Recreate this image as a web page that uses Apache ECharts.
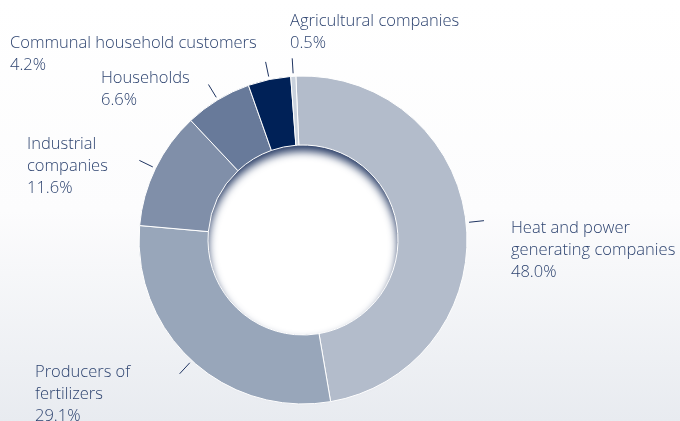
<!DOCTYPE html>
<html>
<head>
<meta charset="utf-8">
<script src="https://cdn.jsdelivr.net/npm/echarts@6/dist/echarts.min.js"></script>
<style>
  html, body { margin: 0; padding: 0; }
  #chart { width: 680px; height: 421px; }
</style>
</head>
<body>
<div id="chart"></div>
<script>
const categories = [
  'Heat and power\ngenerating companies',
  'Producers of\nfertilizers',
  'Industrial\ncompanies',
  'Households',
  'Communal household customers',
  'Agricultural companies'
]
const shares = [48.0, 29.1, 11.6, 6.6, 4.2, 0.5]
const colors = ['#b3bccb', '#98a6ba', '#808fa9', '#687a9a', '#002157', '#c9d1dc']

// top-left corner of every label block
const labelPos = [
  [511, 217],
  [35, 361],
  [27, 133],
  [101, 67],
  [10, 32],
  [290, 10]
]

const center = [303, 240]
const textColor = '#2e4470'

const pieData = categories.map((name, i) => ({
  name: name,
  value: shares[i],
  itemStyle: { color: colors[i] }
}))
const ghostData = categories.map((name, i) => ({ name: name, value: shares[i] }))

let chart = echarts.init(document.getElementById('chart'))
chart.setOption({
  backgroundColor: {
    type: 'linear', x: 0, y: 0, x2: 0, y2: 1,
    colorStops: [
      { offset: 0, color: '#ffffff' },
      { offset: 0.5, color: '#fcfcfd' },
      { offset: 1, color: '#e8ebf0' }
    ]
  },
  animation: false,
  series: [
    // white hole
    {
      type: 'pie', silent: true, z: 1,
      center: center, radius: [0, 97],
      label: { show: false }, labelLine: { show: false },
      itemStyle: { color: '#ffffff' },
      data: [{ value: 1 }]
    },
    // ring that throws the inset shadow into the hole
    {
      type: 'pie', silent: true, z: 2,
      center: center, radius: [95, 150],
      label: { show: false }, labelLine: { show: false },
      itemStyle: {
        color: '#8090aa',
        shadowColor: 'rgba(38, 58, 100, 1)',
        shadowBlur: 9,
        shadowOffsetY: 6
      },
      data: [{ value: 1 }]
    },
    // the donut
    {
      type: 'pie', z: 3,
      center: center, radius: [95, 164],
      startAngle: 92.5,
      clockwise: true,
      label: { show: false }, labelLine: { show: false },
      itemStyle: { borderColor: '#ffffff', borderWidth: 1 },
      data: pieData
    },
    // short tick lines
    {
      type: 'pie', silent: true, z: 4,
      center: center, radius: [0, 167],
      startAngle: 92.5,
      avoidLabelOverlap: false,
      itemStyle: { color: 'rgba(0,0,0,0)' },
      label: { show: true, position: 'outside', formatter: ' ', fontSize: 1 },
      labelLine: { show: true, length: 15, length2: 0, lineStyle: { color: '#1f3461', width: 1 } },
      data: ghostData
    },
    // label texts
    {
      type: 'pie', silent: true, z: 5,
      center: center, radius: [0, 164],
      startAngle: 92.5,
      avoidLabelOverlap: false,
      itemStyle: { color: 'rgba(0,0,0,0)' },
      label: {
        show: true,
        position: 'outside',
        color: textColor,
        fontFamily: 'Open Sans',
        fontWeight: 300,
        fontSize: 16.5,
        lineHeight: 22,
        align: 'left',
        formatter: p => p.name + '\n' + p.value.toFixed(1) + '%'
      },
      labelLine: { show: false },
      labelLayout: p => ({
        x: labelPos[p.dataIndex][0],
        y: labelPos[p.dataIndex][1],
        align: 'left',
        verticalAlign: 'top'
      }),
      data: ghostData
    }
  ]
})
</script>
</body>
</html>
